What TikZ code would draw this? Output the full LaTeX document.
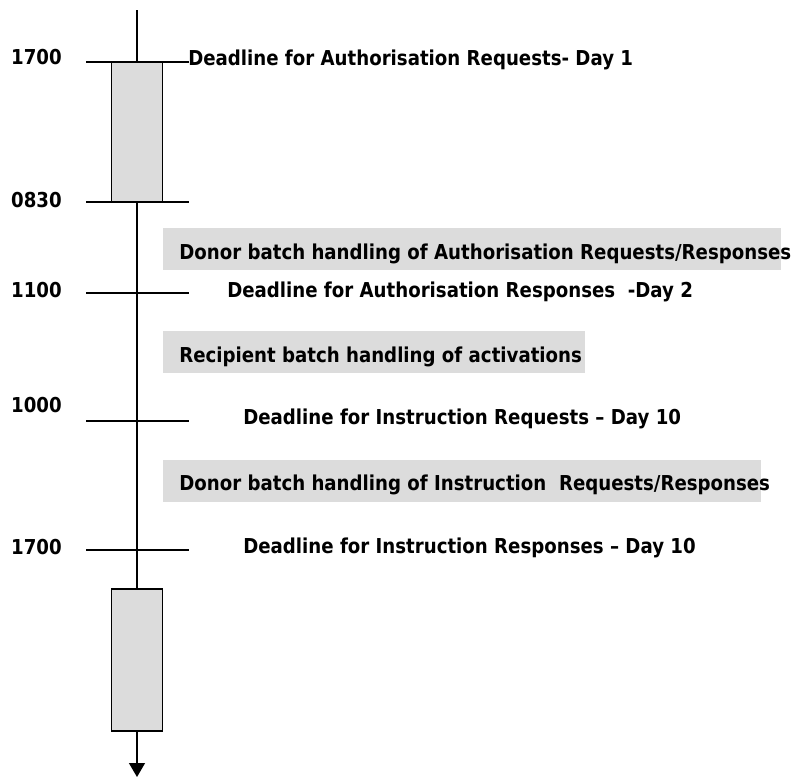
\documentclass[tikz,border=0pt]{standalone}
\usepackage{fontspec}
\usetikzlibrary{arrows.meta}
\newfontfamily\lblfont[FakeStretch=0.885]{DejaVu Sans}
\definecolor{bandgray}{HTML}{DCDCDC}
\begin{document}
\begin{tikzpicture}[x=0.75pt, y=-0.75pt,
  axisline/.style={line width=1pt},
  tickline/.style={line width=1pt},
  slot/.style={draw=black, line width=1pt, fill=bandgray, minimum width=38.25pt, inner sep=0pt, outer sep=0pt},
  txt/.style={font=\lblfont\bfseries\fontsize{15.4}{18}\selectfont, inner sep=0pt, text=black},
  timelbl/.style={txt, anchor=base east},
  lefttxt/.style={txt, anchor=base west}]
\useasboundingbox (0,0) rectangle (802,779);

% shaded handling periods
\fill[bandgray] (163,228) rectangle (781,270);
\fill[bandgray] (163,331) rectangle (585,373);
\fill[bandgray] (163,460) rectangle (761,502);

% time axis
\coordinate (axtop) at (137,10);
\coordinate (axend) at (137,777);
\node[slot, minimum height=105pt, anchor=north] (slotA) at (137,62) {};
\node[slot, minimum height=106.5pt, anchor=north] (slotB) at (137,589) {};
\draw[axisline] (axtop) -- (slotA.north);
\draw[axisline] (slotA.south) -- (slotB.north);
\draw[axisline, -{Triangle[width=12pt,length=10.5pt]}] (slotB.south) -- (axend);

% ticks
\foreach \name/\yy in {ta/62, tb/202, tc/293, td/421, te/550}{
  \coordinate (\name l) at (86,\yy);
  \coordinate (\name r) at (189,\yy);
  \draw[tickline] (\name l) -- (\name r);
}

% times
\node[timelbl] (h1) at (62,64) {1700};
\node[timelbl] (h2) at (62,207) {0830};
\node[timelbl] (h3) at (62,297) {1100};
\node[timelbl] (h4) at (62,412) {1000};
\node[timelbl] (h5) at (62,554) {1700};

% deadlines
\node[lefttxt] (d1) at (188,65) {Deadline for Authorisation Requests- Day 1};
\node[lefttxt] (d2) at (227,297) {Deadline for Authorisation Responses\ \ -Day 2};
\node[lefttxt] (d3) at (243,424) {Deadline for Instruction Requests – Day 10};
\node[lefttxt] (d4) at (243,553) {Deadline for Instruction Responses – Day 10};

% batch handling periods
\node[lefttxt] (b1) at (179,259) {Donor batch handling of Authorisation Requests/Responses};
\node[lefttxt] (b2) at (179,362) {Recipient batch handling of activations};
\node[lefttxt] (b3) at (179,490) {Donor batch handling of Instruction\ \ Requests/Responses};
\end{tikzpicture}
\end{document}
